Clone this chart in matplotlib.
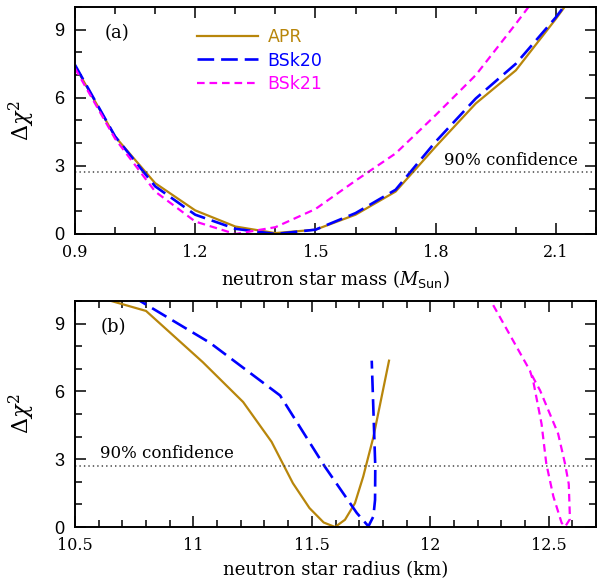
import matplotlib
matplotlib.use("Agg")
import matplotlib.pyplot as plt
from matplotlib.ticker import MultipleLocator

plt.rcParams['lines.scale_dashes'] = False
plt.rcParams['mathtext.fontset'] = 'dejavuserif'

# ---------------- data: panel (a) ----------------
mass = [0.9, 1.0, 1.1, 1.2, 1.3, 1.4, 1.5, 1.6, 1.7, 1.8, 1.9, 2.0, 2.1, 2.2]
apr_mass = [7.4, 4.29, 2.24, 1.04, 0.33, 0.04, 0.19, 0.85, 1.87, 3.85, 5.75, 7.21, 9.48, 11.9]
bsk20_mass = [7.45, 4.3, 2.1, 0.85, 0.23, 0.0, 0.19, 0.92, 1.95, 4.07, 5.97, 7.5, 9.55, 11.9]
bsk21_mass = [7.3, 4.2, 1.87, 0.55, 0.0, 0.3, 1.1, 2.35, 3.55, 5.24, 7.0, 9.26, 11.6, 14.0]

# ---------------- data: panel (b) ----------------
apr_r = [10.62, 10.80, 11.04, 11.21, 11.33, 11.42, 11.49, 11.55, 11.598, 11.64, 11.682, 11.717, 11.76, 11.826]
apr_rchi = [10.1, 9.56, 7.29, 5.53, 3.77, 1.94, 0.84, 0.2, 0.0, 0.32, 1.05, 2.23, 3.98, 7.36]
bsk20_r = [10.74, 11.07, 11.366, 11.555, 11.69, 11.739, 11.76, 11.767, 11.768, 11.753]
bsk20_rchi = [10.22, 8.15, 5.82, 2.67, 0.62, 0.03, 0.47, 1.2, 2.67, 7.36]
bsk21_r = [12.24, 12.421, 12.435, 12.47, 12.49, 12.52, 12.555, 12.57, 12.59, 12.585, 12.569, 12.54, 12.499, 12.464, 12.43]
bsk21_rchi = [10.3, 6.92, 6.45, 4.57, 2.81, 1.35, 0.18, 0.02, 0.35, 1.9, 2.81, 4.13, 5.16, 6.04, 6.7]

conf90 = 2.71
labels = ["APR", "BSk20", "BSk21"]
colors = ["#B8860B", "#0000FF", "#FF00FF"]

serif = "DejaVu Serif"
sans = "Liberation Sans"

fig = plt.figure(figsize=(6.05, 5.81), dpi=100)
ax1 = fig.add_axes([75/605, 1-234/581, 521/605, 227/581])
ax2 = fig.add_axes([75/605, 1-527/581, 521/605, 226/581])

def style(ax):
    ax.tick_params(which='both', direction='in', top=True, right=True, width=1.1)
    ax.tick_params(which='major', length=8)
    ax.tick_params(which='minor', length=5)
    ax.tick_params(axis='x', which='major', pad=7)
    ax.tick_params(axis='y', which='major', pad=8)
    for s in ax.spines.values():
        s.set_linewidth(1.4)
    ax.set_ylim(0, 10)
    ax.yaxis.set_major_locator(MultipleLocator(3))
    ax.yaxis.set_minor_locator(MultipleLocator(1))
    for lab in ax.get_yticklabels():
        lab.set_fontfamily(sans)
        lab.set_fontsize(13)
    for lab in ax.get_xticklabels():
        lab.set_fontfamily(serif)
        lab.set_fontsize(11.5)
    ax.set_ylabel(r"$\Delta\chi^2$", fontsize=16, family=sans, labelpad=12)
    ax.axhline(conf90, color="#444444", lw=1.1, ls=(0, (1, 2.2)))

kw_apr = dict(color=colors[0], lw=1.6)
kw_b20 = dict(color=colors[1], lw=1.9, dashes=(12, 5))
kw_b21 = dict(color=colors[2], lw=1.6, dashes=(5.5, 3.5))

# panel (a)
ax1.plot(mass, apr_mass, label=labels[0], **kw_apr)
ax1.plot(mass, bsk20_mass, label=labels[1], **kw_b20)
ax1.plot(mass, bsk21_mass, label=labels[2], **kw_b21)
ax1.set_xlim(0.9, 2.2)
ax1.xaxis.set_minor_locator(MultipleLocator(0.1))
ax1.set_xticks([0.9, 1.2, 1.5, 1.8, 2.1])
ax1.set_xticklabels(["0.9", "1.2", "1.5", "1.8", "2.1"])
style(ax1)
ax1.set_xlabel(r"neutron star mass ($M_{\mathsf{Sun}}$)", family=serif, fontsize=13, labelpad=5)
ax1.text(0.056, 0.885, "(a)", transform=ax1.transAxes, family=serif, fontsize=13, va='center')
ax1.text(0.965, conf90 + 0.15, "90% confidence", transform=ax1.get_yaxis_transform(),
         family=serif, fontsize=12, ha='right', va='bottom')
leg = ax1.legend(loc='upper left', bbox_to_anchor=(0.205, 0.975), frameon=False,
                 handlelength=3.5, handletextpad=0.55, labelspacing=0.3,
                 prop=dict(family="DejaVu Sans", size=12.5), labelcolor='linecolor')

# panel (b)
ax2.plot(apr_r, apr_rchi, **kw_apr)
ax2.plot(bsk20_r, bsk20_rchi, **kw_b20)
ax2.plot(bsk21_r, bsk21_rchi, **kw_b21)
ax2.set_xlim(10.5, 12.7)
ax2.xaxis.set_minor_locator(MultipleLocator(0.1))
ax2.set_xticks([10.5, 11, 11.5, 12, 12.5])
ax2.set_xticklabels(["10.5", "11", "11.5", "12", "12.5"])
style(ax2)
ax2.set_xlabel("neutron star radius (km)", family=serif, fontsize=13, labelpad=5)
ax2.text(0.05, 0.885, "(b)", transform=ax2.transAxes, family=serif, fontsize=13, va='center')
ax2.text(0.048, conf90 + 0.15, "90% confidence", transform=ax2.get_yaxis_transform(),
         family=serif, fontsize=12, ha='left', va='bottom')

fig.savefig("out.png", dpi=100)
